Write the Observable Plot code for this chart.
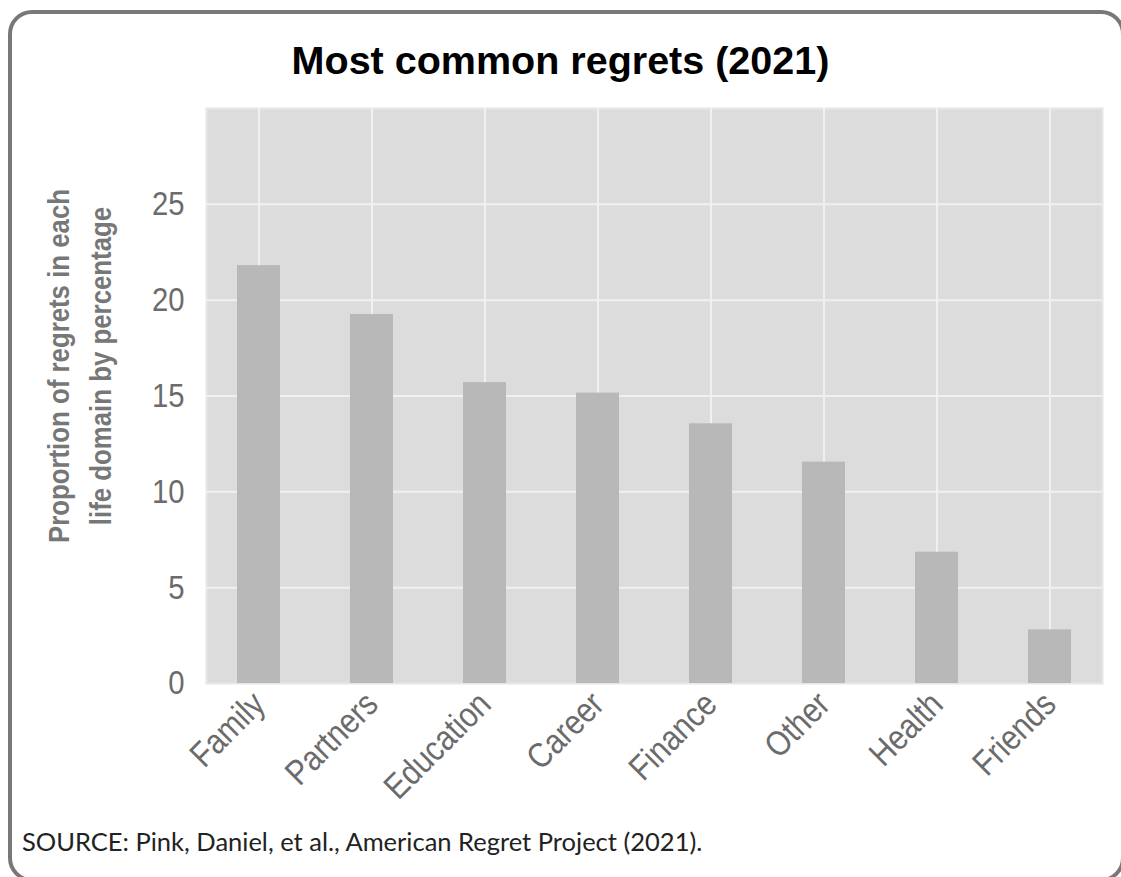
<!DOCTYPE html>
<html>
<head>
<meta charset="utf-8">
<script src="https://cdn.jsdelivr.net/npm/d3@7"></script>
<script src="https://cdn.jsdelivr.net/npm/@observablehq/plot@0.6"></script>
<style>
  html, body { margin: 0; padding: 0; width: 1121px; height: 877px; overflow: hidden; background: #fff; }
  #card { position: absolute; left: 8px; top: 10px; width: 1117px; height: 872px; box-sizing: border-box;
          border: 4px solid #787878; border-radius: 24px; }
  #title { position: absolute; left: 0; top: 41px; width: 1121px; text-align: center; font-family: "Liberation Sans", Arial, sans-serif;
           font-weight: bold; font-size: 39.5px; line-height: 1; color: #000; }
  #chart { position: absolute; left: 0; top: 0; }
  #caption { position: absolute; left: 22px; top: 829px; font-family: Lato, "Open Sans", sans-serif; font-size: 25.5px; color: #222; line-height: 1; }
</style>
</head>
<body>
<div id="card"></div>
<div id="chart"></div>
<div id="title">Most common regrets (2021)</div>
<div id="caption">SOURCE: Pink, Daniel, et al., American Regret Project (2021).</div>
<script>
const categories = ["Family", "Partners", "Education", "Career", "Finance", "Other", "Health", "Friends"];
const values = [21.8, 19.25, 15.7, 15.15, 13.55, 11.55, 6.85, 2.8];
const yTicks = [0, 5, 10, 15, 20, 25];
const yLabel = "Proportion of regrets in each\nlife domain by percentage";

const data = categories.map((c, i) => ({category: c, value: values[i]}));

const chart = Plot.plot({
  width: 1121,
  height: 877,
  marginLeft: 206,
  marginRight: 19,
  marginTop: 108,
  marginBottom: 194,
  style: {fontFamily: "'Liberation Sans', Arial, sans-serif", color: "#6b6b6b", background: "transparent"},
  x: {domain: categories, paddingInner: 0.62, paddingOuter: 0.27, label: null},
  y: {domain: [0, 30], label: null},
  marks: [
    Plot.frame({fill: "#dcdcdc", stroke: "#e6e6e6", strokeWidth: 2}),
    Plot.gridY([5, 10, 15, 20, 25], {stroke: "#f0f0f0", strokeOpacity: 1, strokeWidth: 2}),
    Plot.gridX(categories, {stroke: "#f0f0f0", strokeOpacity: 1, strokeWidth: 2}),
    Plot.barY(data, {x: "category", y: "value", fill: "#b8b8b8"}),
    Plot.axisY({ticks: yTicks, tickSize: 0, tickPadding: 22, fontSize: 34, label: null}),
    Plot.axisX({tickRotate: -45, tickSize: 0, tickPadding: 15, fontSize: 35, label: null}),
    Plot.text([yLabel], {frameAnchor: "left", rotate: -90, dx: -130, dy: -30, fontSize: 30, fontWeight: "bold",
                         fill: "#777", lineHeight: 1.42, textAnchor: "middle", lineAnchor: "middle"})
  ]
});
document.getElementById("chart").append(chart);

// emulate the condensed typeface of the original by narrowing glyphs
const condense = 0.86;
chart.querySelectorAll("text").forEach(t => {
  const spans = t.querySelectorAll("tspan");
  const targets = spans.length ? Array.from(spans) : [t];
  targets.forEach(el => {
    const len = el.getComputedTextLength();
    if (len > 0) {
      el.setAttribute("textLength", (len * condense).toFixed(1));
      el.setAttribute("lengthAdjust", "spacingAndGlyphs");
    }
  });
});
</script>
</body>
</html>
